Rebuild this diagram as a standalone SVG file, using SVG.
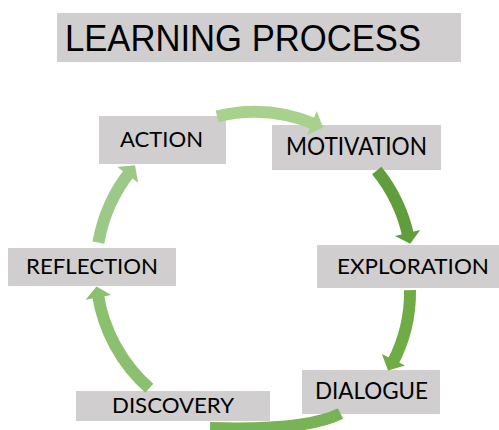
<svg xmlns="http://www.w3.org/2000/svg" width="499" height="430" viewBox="0 0 499 430">
  <style>
    .box { fill: #d0cece; }
    .label { font-family: Lato, "Liberation Sans", sans-serif; fill: #000; }
    .title { font-family: "Liberation Sans", Arial, sans-serif; fill: #000; }
    .body { fill: none; stroke-width: 12; stroke-linecap: butt; }
  </style>
  <rect width="499" height="430" fill="#fff"/>

  <!-- heading -->
  <g id="title">
    <rect class="box" x="57" y="13" width="404" height="49"/>
    <text class="title" x="65" y="51" font-size="36" textLength="356" lengthAdjust="spacingAndGlyphs">LEARNING PROCESS</text>
  </g>

  <!-- cycle stages -->
  <g id="action">
    <rect class="box" x="99" y="116" width="127" height="48"/>
    <text class="label" x="120" y="147" font-size="21.5" textLength="83" lengthAdjust="spacingAndGlyphs">ACTION</text>
  </g>
  <g id="motivation">
    <rect class="box" x="272" y="125" width="169" height="45"/>
    <text class="label" x="286" y="155" font-size="24.5" textLength="141" lengthAdjust="spacingAndGlyphs">MOTIVATION</text>
  </g>
  <g id="exploration">
    <rect class="box" x="317" y="245" width="182" height="43"/>
    <text class="label" x="337" y="274" font-size="22" textLength="152" lengthAdjust="spacingAndGlyphs">EXPLORATION</text>
  </g>
  <g id="dialogue">
    <rect class="box" x="302" y="370" width="138" height="44"/>
    <text class="label" x="315" y="399" font-size="23.5" textLength="113" lengthAdjust="spacingAndGlyphs">DIALOGUE</text>
  </g>
  <g id="discovery">
    <rect class="box" x="76" y="391" width="194" height="30"/>
    <text class="label" x="112" y="413" font-size="22" textLength="122" lengthAdjust="spacingAndGlyphs">DISCOVERY</text>
  </g>
  <g id="reflection">
    <rect class="box" x="8" y="248" width="168" height="38"/>
    <text class="label" x="26" y="274" font-size="22" textLength="132" lengthAdjust="spacingAndGlyphs">REFLECTION</text>
  </g>

  <!-- curved arrows, clockwise round the cycle -->
  <g id="connectors">
    <g id="action-motivation">
      <path class="body" stroke="#a9d18e" d="M217.1,116.4 A158,158 0 0 1 315.7,124.6"/>
      <polygon fill="#a9d18e" points="316.7,110.9 323.1,127.4 307.1,135.1"/>
    </g>
    <g id="motivation-exploration">
      <path class="body" stroke="#5f9d3d" d="M376.8,170.6 A158,158 0 0 1 408.5,237.2"/>
      <polygon fill="#5f9d3d" points="420.2,230.1 410.2,243.8 395.0,236.1"/>
    </g>
    <g id="exploration-dialogue">
      <path class="body" stroke="#6fac46" d="M410,290.1 A151.5,151.5 0 0 1 392.3,363.3"/>
      <polygon fill="#6fac46" points="405.1,365.5 388.1,370.4 381.9,353.9"/>
    </g>
    <g id="dialogue-discovery">
      <path class="body" stroke="#78b456" d="M340.5,413.5 C320,424 280,430 210,428"/>
    </g>
    <g id="discovery-reflection">
      <path class="body" stroke="#8bc06e" d="M149.3,388.3 A158,158 0 0 1 97.7,293.4"/>
      <polygon fill="#8bc06e" points="85.6,299.7 96.5,286.6 111.2,295.1"/>
    </g>
    <g id="reflection-action">
      <path class="body" stroke="#9dc988" d="M98.4,242.6 A158,158 0 0 1 130.3,171.6"/>
      <polygon fill="#9dc988" points="117.4,167.1 135.0,165.3 138.2,182.7"/>
    </g>
  </g>
</svg>
